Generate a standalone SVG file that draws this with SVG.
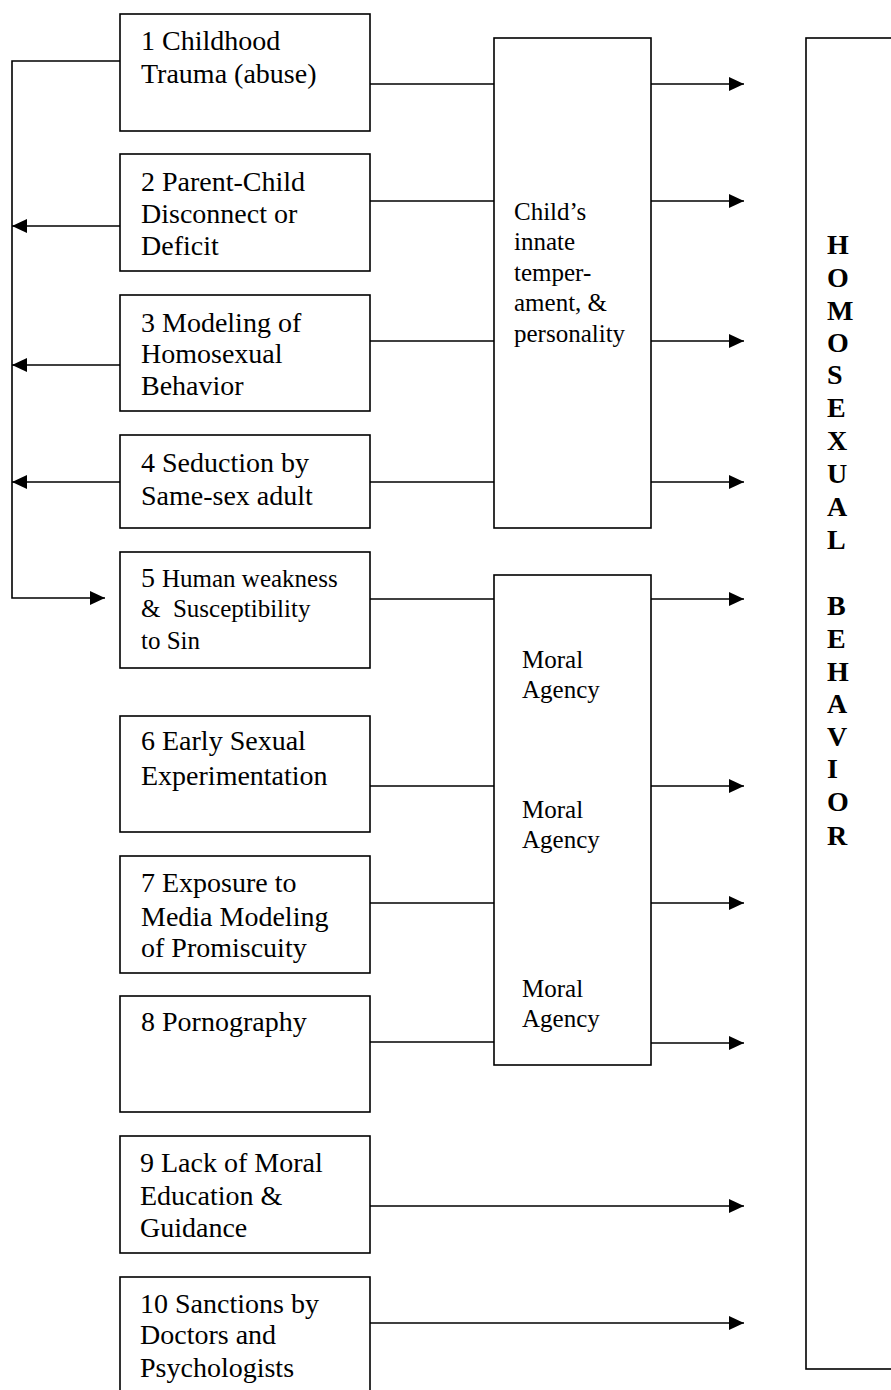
<svg xmlns="http://www.w3.org/2000/svg" width="891" height="1390" viewBox="0 0 891 1390">
<style>
.box{fill:#fff;stroke:#000;stroke-width:1.6}
.t{font-family:"Liberation Serif","Times New Roman",serif;font-size:28px;fill:#000}
.s{font-family:"Liberation Serif","Times New Roman",serif;font-size:25px;fill:#000}
.b{font-family:"Liberation Serif","Times New Roman",serif;font-size:28px;font-weight:bold;fill:#000}
.c{fill:none;stroke:#000;stroke-width:1.6}
</style>
<defs>
<marker id="ah" markerWidth="16" markerHeight="14" refX="15" refY="7" orient="auto" markerUnits="userSpaceOnUse">
<path d="M0,0 L15,7 L0,14 Z" fill="#000"/>
</marker>
</defs>
<rect width="891" height="1390" fill="#fff"/>
<g id="connectors">
<polyline class="c" points="120,61 12,61 12,598 105,598" marker-end="url(#ah)"/>
<line class="c" x1="120" y1="226" x2="12" y2="226" marker-end="url(#ah)"/>
<line class="c" x1="120" y1="365" x2="12" y2="365" marker-end="url(#ah)"/>
<line class="c" x1="120" y1="482" x2="12" y2="482" marker-end="url(#ah)"/>
<line class="c" x1="370" y1="84" x2="494" y2="84"/>
<line class="c" x1="370" y1="201" x2="494" y2="201"/>
<line class="c" x1="370" y1="341" x2="494" y2="341"/>
<line class="c" x1="370" y1="482" x2="494" y2="482"/>
<line class="c" x1="370" y1="599" x2="494" y2="599"/>
<line class="c" x1="370" y1="786" x2="494" y2="786"/>
<line class="c" x1="370" y1="903" x2="494" y2="903"/>
<line class="c" x1="370" y1="1042" x2="494" y2="1042"/>
<line class="c" x1="651" y1="84" x2="744" y2="84" marker-end="url(#ah)"/>
<line class="c" x1="651" y1="201" x2="744" y2="201" marker-end="url(#ah)"/>
<line class="c" x1="651" y1="341" x2="744" y2="341" marker-end="url(#ah)"/>
<line class="c" x1="651" y1="482" x2="744" y2="482" marker-end="url(#ah)"/>
<line class="c" x1="651" y1="599" x2="744" y2="599" marker-end="url(#ah)"/>
<line class="c" x1="651" y1="786" x2="744" y2="786" marker-end="url(#ah)"/>
<line class="c" x1="651" y1="903" x2="744" y2="903" marker-end="url(#ah)"/>
<line class="c" x1="651" y1="1043" x2="744" y2="1043" marker-end="url(#ah)"/>
<line class="c" x1="370" y1="1206" x2="744" y2="1206" marker-end="url(#ah)"/>
<line class="c" x1="370" y1="1323" x2="744" y2="1323" marker-end="url(#ah)"/>
</g>
<g id="n1"><rect class="box" x="120" y="14" width="250" height="117"/>
<text class="t" x="141" y="50">1 Childhood</text><text class="t" x="141" y="83">Trauma (abuse)</text></g>
<g id="n2"><rect class="box" x="120" y="154" width="250" height="117"/>
<text class="t" x="141" y="191">2 Parent-Child</text><text class="t" x="141" y="223">Disconnect or</text><text class="t" x="141" y="255">Deficit</text></g>
<g id="n3"><rect class="box" x="120" y="295" width="250" height="116"/>
<text class="t" x="141" y="332">3 Modeling of</text><text class="t" x="141" y="363">Homosexual</text><text class="t" x="141" y="395">Behavior</text></g>
<g id="n4"><rect class="box" x="120" y="435" width="250" height="93"/>
<text class="t" x="141" y="472">4 Seduction by</text><text class="t" x="141" y="505">Same-sex adult</text></g>
<g id="n5"><rect class="box" x="120" y="552" width="250" height="116"/>
<text class="t" x="141" y="587">5 <tspan font-size="25">Human weakness</tspan></text><text class="s" x="141" y="617" xml:space="preserve">&amp;  Susceptibility</text><text class="s" x="141" y="649">to Sin</text></g>
<g id="n6"><rect class="box" x="120" y="716" width="250" height="116"/>
<text class="t" x="141" y="750">6 Early Sexual</text><text class="t" x="141" y="785">Experimentation</text></g>
<g id="n7"><rect class="box" x="120" y="856" width="250" height="117"/>
<text class="t" x="141" y="892">7 Exposure to</text><text class="t" x="141" y="926">Media Modeling</text><text class="t" x="141" y="957">of Promiscuity</text></g>
<g id="n8"><rect class="box" x="120" y="996" width="250" height="116"/>
<text class="t" x="141" y="1031">8 Pornography</text></g>
<g id="n9"><rect class="box" x="120" y="1136" width="250" height="117"/>
<text class="t" x="140" y="1172">9 Lack of Moral</text><text class="t" x="140" y="1205">Education &amp;</text><text class="t" x="140" y="1237">Guidance</text></g>
<g id="n10"><rect class="box" x="120" y="1277" width="250" height="130"/>
<text class="t" x="140" y="1313">10 Sanctions by</text><text class="t" x="140" y="1344">Doctors and</text><text class="t" x="140" y="1377">Psychologists</text></g>
<g id="temperament"><rect class="box" x="494" y="38" width="157" height="490"/>
<text class="s" x="514" y="220">Child’s</text><text class="s" x="514" y="250">innate</text><text class="s" x="514" y="281">temper-</text><text class="s" x="514" y="311">ament, &amp;</text><text class="s" x="514" y="342">personality</text></g>
<g id="moral"><rect class="box" x="494" y="575" width="157" height="490"/>
<text class="s" x="522" y="668">Moral</text><text class="s" x="522" y="698">Agency</text>
<text class="s" x="522" y="818">Moral</text><text class="s" x="522" y="848">Agency</text>
<text class="s" x="522" y="997">Moral</text><text class="s" x="522" y="1027">Agency</text></g>
<g id="behavior"><rect class="box" x="806" y="38" width="100" height="1331"/>
<text class="b" x="827" y="254">H</text><text class="b" x="827" y="287">O</text><text class="b" x="827" y="320">M</text><text class="b" x="827" y="352">O</text><text class="b" x="827" y="384">S</text><text class="b" x="827" y="417">E</text><text class="b" x="827" y="450">X</text><text class="b" x="827" y="483">U</text><text class="b" x="827" y="516">A</text><text class="b" x="827" y="549">L</text>
<text class="b" x="827" y="615">B</text><text class="b" x="827" y="648">E</text><text class="b" x="827" y="681">H</text><text class="b" x="827" y="713">A</text><text class="b" x="827" y="746">V</text><text class="b" x="827" y="778">I</text><text class="b" x="827" y="811">O</text><text class="b" x="827" y="845">R</text></g>
</svg>
